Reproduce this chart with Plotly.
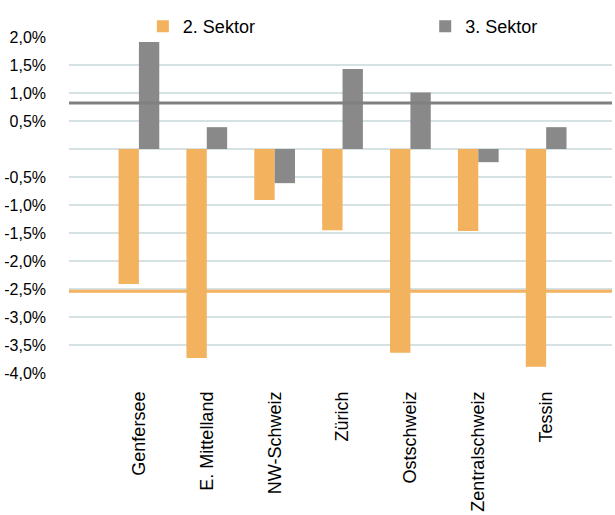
import plotly.graph_objects as go

# ---- data ----
regions = ["Genfersee", "E. Mittelland", "NW-Schweiz", "Zürich",
           "Ostschweiz", "Zentralschweiz", "Tessin"]
sektor2 = [-2.41, -3.73, -0.91, -1.45, -3.64, -1.465, -3.89]
sektor3 = [1.91, 0.39, -0.61, 1.43, 1.01, -0.235, 0.39]
avg_sektor2 = -2.54
avg_sektor3 = 0.82
series_names = ["2. Sektor", "3. Sektor"]
ytick_vals = [2.0, 1.5, 1.0, 0.5, 0.0, -0.5, -1.0, -1.5, -2.0, -2.5, -3.0, -3.5, -4.0]
ytick_text = ["2,0%", "1,5%", "1,0%", "0,5%", "", "-0,5%", "-1,0%", "-1,5%",
              "-2,0%", "-2,5%", "-3,0%", "-3,5%", "-4,0%"]

# ---- style ----
ORANGE = "#F3B25E"
GREY = "#898989"
GRID = "#D6E1E4"
FONT = "Liberation Sans, Arial, sans-serif"

fig = go.Figure()
fig.add_trace(go.Bar(x=regions, y=sektor2, name=series_names[0],
                     marker=dict(color=ORANGE, line=dict(width=0)),
                     legend="legend", showlegend=True))
fig.add_trace(go.Bar(x=regions, y=sektor3, name=series_names[1],
                     marker=dict(color=GREY, line=dict(width=0)),
                     legend="legend2", showlegend=True))

fig.add_shape(type="line", xref="paper", x0=0, x1=1, yref="y",
              y0=avg_sektor3, y1=avg_sektor3,
              line=dict(color="#808080", width=3), layer="above")
fig.add_shape(type="line", xref="paper", x0=0, x1=1, yref="y",
              y0=avg_sektor2, y1=avg_sektor2,
              line=dict(color=ORANGE, width=3), layer="above")

fig.update_layout(
    width=615, height=515, showlegend=True,
    margin=dict(l=69, r=3, t=37, b=142, pad=0),
    paper_bgcolor="white", plot_bgcolor="white",
    font=dict(family=FONT, size=16, color="#000000"),
    barmode="group", bargap=0.4, bargroupgap=0,
    legend=dict(x=0.136, xanchor="left", y=1.086, yanchor="top",
                orientation="h", font=dict(size=18), visible=True,
                bgcolor="rgba(0,0,0,0)", borderwidth=0),
    legend2=dict(x=0.656, xanchor="left", y=1.086, yanchor="top",
                 orientation="h", font=dict(size=18), visible=True,
                 bgcolor="rgba(0,0,0,0)", borderwidth=0),
    xaxis=dict(range=[-1.03, 6.97], tickangle=-90, showgrid=False,
               showline=False, ticks="", tickfont=dict(size=18),
               ticklabelstandoff=14),
    yaxis=dict(range=[-4.0, 2.0], tickmode="array", tickvals=ytick_vals,
               ticktext=ytick_text, showgrid=True, gridcolor=GRID,
               gridwidth=2, zeroline=False, showline=False, ticks="",
               tickfont=dict(size=16), ticklabelstandoff=22),
)

fig.write_html("out.html")
